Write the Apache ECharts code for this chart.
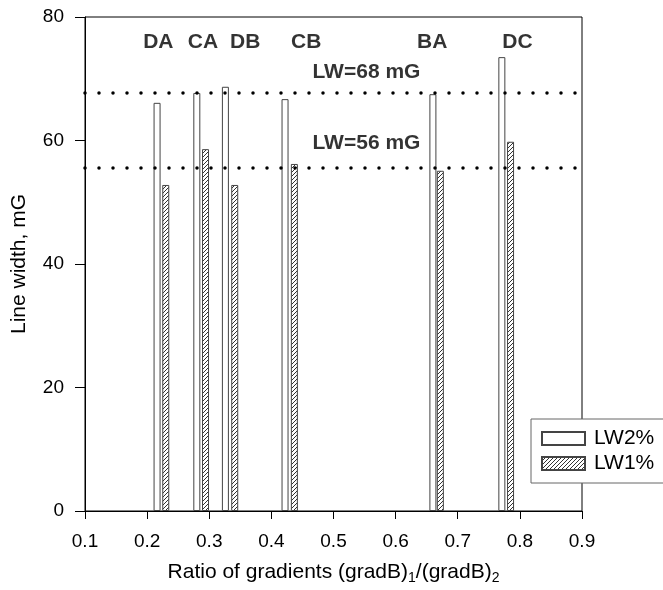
<!DOCTYPE html>
<html lang="en">

<head>
  <meta charset="UTF-8">
  <title>Line width vs ratio of gradients</title>
  <script src="https://cdn.jsdelivr.net/npm/echarts@6/dist/echarts.min.js"></script>
  <style>
    body { margin: 0; background: #fff; }
  </style>
</head>

<body>
  <div id="main" style="width: 663px; height: 590px"></div>

  <script>
    // pair names and where each bar sits on the ratio axis
    let pairs = ['DA', 'CA', 'DB', 'CB', 'BA', 'DC']
    let ratioLW2 = [0.216, 0.280, 0.326, 0.422, 0.660, 0.771]
    let ratioLW1 = [0.230, 0.294, 0.341, 0.437, 0.672, 0.785]
    let lw2 = [66.1, 67.7, 68.7, 66.7, 67.5, 73.5]
    let lw1 = [52.8, 58.6, 52.8, 56.2, 55.1, 59.8]
    // text positions of the pair names at the top
    let pairLabelX = [0.218, 0.290, 0.358, 0.456, 0.659, 0.796]
    let pairLabelY = 75.9
    // reference levels
    let refLevels = [67.7, 55.6]
    let refLabels = ['LW=68 mG', 'LW=56 mG']
    let refLabelX = 0.553
    let refLabelY = [71.1, 59.6]

    // diagonal hatch pattern
    let hatch = document.createElement('canvas')
    hatch.width = 4
    hatch.height = 4
    let ctx = hatch.getContext('2d')
    ctx.fillStyle = '#fff'
    ctx.fillRect(0, 0, 4, 4)
    ctx.strokeStyle = '#333'
    ctx.lineWidth = 1
    ctx.beginPath()
    ctx.moveTo(-1, 5); ctx.lineTo(5, -1)
    ctx.moveTo(-3, 3); ctx.lineTo(3, -3)
    ctx.moveTo(1, 7); ctx.lineTo(7, 1)
    ctx.stroke()

    let font = 'Liberation Sans, Arial, sans-serif'
    let myChart = echarts.init(document.getElementById('main'))

    let option = {
      animation: false,
      backgroundColor: '#fff',
      grid: {
        left: 85,
        right: 81,
        top: 17,
        bottom: 79,
        show: true,
        borderColor: '#000',
        borderWidth: 1
      },
      legend: {
        data: ['LW2%', 'LW1%'],
        orient: 'vertical',
        left: 531,
        top: 419,
        padding: [9, 30, 9, 10],
        itemWidth: 43,
        itemHeight: 13,
        itemGap: 4,
        backgroundColor: '#fff',
        borderColor: '#666',
        borderWidth: 1,
        icon: 'rect',
        textStyle: { fontFamily: font, fontSize: 21, color: '#000', padding: [0, 0, 0, 4] }
      },
      xAxis: [{
        type: 'value',
        min: 0.1,
        max: 0.9,
        interval: 0.1,
        name: '{a|Ratio of gradients (gradB)}{s|1}{a|/(gradB)}{s|2}',
        nameLocation: 'middle',
        nameGap: 48,
        nameTextStyle: {
          rich: {
            a: { fontFamily: font, fontSize: 21, color: '#000' },
            s: { fontFamily: font, fontSize: 14, color: '#000', padding: [12, 0, 0, 0] }
          }
        },
        axisLine: { lineStyle: { color: '#000', width: 1 } },
        axisTick: { length: 8, lineStyle: { color: '#000' } },
        axisLabel: {
          margin: 21,
          fontFamily: font,
          fontSize: 19,
          color: '#000',
          formatter: v => v.toFixed(1)
        },
        splitLine: { show: false }
      }, {
        type: 'value',
        min: 0.1,
        max: 0.9,
        show: false
      }],
      yAxis: {
        type: 'value',
        min: 0,
        max: 80,
        interval: 20,
        name: 'Line width, mG',
        nameLocation: 'middle',
        nameGap: 55,
        nameTextStyle: { fontFamily: font, fontSize: 21, color: '#000' },
        axisLine: { show: true, lineStyle: { color: '#000', width: 1 } },
        axisTick: { length: 10, lineStyle: { color: '#000' } },
        axisLabel: { margin: 21, fontFamily: font, fontSize: 19, color: '#000' },
        splitLine: { show: false }
      },
      series: [{
          name: 'LW2%',
          type: 'bar',
          xAxisIndex: 0,
          barWidth: 7,
          data: ratioLW2.map((x, i) => [x, lw2[i]]),
          itemStyle: { color: '#fff', borderColor: '#444', borderWidth: 1 },
          markLine: {
            silent: true,
            symbol: 'none',
            label: { show: false },
            lineStyle: { color: '#000', width: 3.5, type: [0, 14], cap: 'round' },
            data: refLevels.map(v => ({ yAxis: v }))
          }
        },
        {
          name: 'LW1%',
          type: 'bar',
          xAxisIndex: 1,
          barWidth: 7,
          data: ratioLW1.map((x, i) => [x, lw1[i]]),
          itemStyle: {
            color: { image: hatch, repeat: 'repeat' },
            borderColor: '#444',
            borderWidth: 1
          }
        },
        {
          type: 'scatter',
          symbolSize: 0,
          silent: true,
          data: pairs.map((p, i) => ({ name: p, value: [pairLabelX[i], pairLabelY] }))
            .concat(refLabels.map((t, i) => ({ name: t, value: [refLabelX, refLabelY[i]] }))),
          label: {
            show: true,
            position: 'inside',
            formatter: p => p.name,
            fontFamily: font,
            fontWeight: 'bold',
            fontSize: 21,
            color: '#000'
          }
        }
      ]
    }
    myChart.setOption(option)
  </script>
</body>

</html>
